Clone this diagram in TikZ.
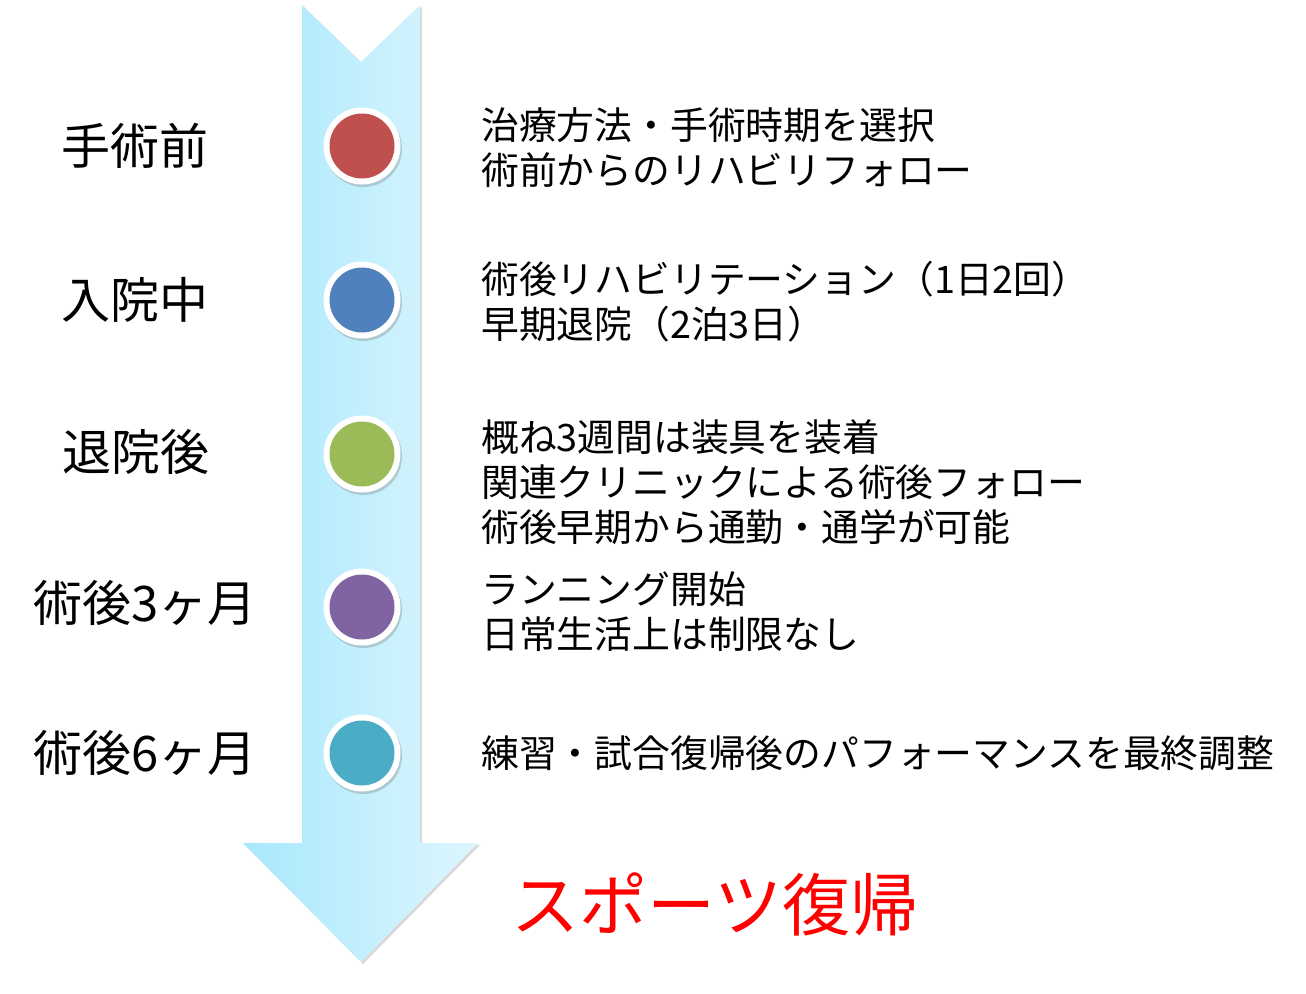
\documentclass[tikz,border=0pt]{standalone}
\usepackage{fontspec}
\setmainfont{Noto Sans CJK JP}
\usetikzlibrary{shadows}
\definecolor{arrowL}{RGB}{168,232,252}
\definecolor{arrowR}{RGB}{222,246,254}
\definecolor{cRed}{RGB}{192,80,77}
\definecolor{cBlue}{RGB}{79,129,189}
\definecolor{cGreen}{RGB}{155,187,89}
\definecolor{cPurple}{RGB}{128,100,162}
\definecolor{cTeal}{RGB}{75,172,198}
\definecolor{titleRed}{RGB}{255,0,0}
\tikzset{
  ring/.style={circle, fill=white, minimum size=77pt, inner sep=0pt,
    drop shadow={opacity=0.35, shadow xshift=1.5pt, shadow yshift=-2.5pt}},
  dot/.style={circle, fill=#1, minimum size=65pt, inner sep=0pt},
  phase/.style={font=\fontsize{49}{56}\selectfont, inner sep=0pt},
  desc/.style={font=\fontsize{37.8}{45}\selectfont, align=left, anchor=west, inner sep=0pt},
  goal/.style={font=\fontsize{68}{74}\selectfont, text=titleRed, inner sep=0pt}
}
\begin{document}
\begin{tikzpicture}[x=1pt,y=-1pt]
\useasboundingbox (0,0) rectangle (1306,993);
% arrow
\path[shading=axis, left color=arrowL, right color=arrowR,
  drop shadow={opacity=0.3, shadow xshift=2pt, shadow yshift=-2pt}]
  (302,5) -- (361,62) -- (420,5) -- (420,843) -- (478,843) -- (361,962)
  -- (243,843) -- (302,843) -- cycle;
% circles
\foreach \n/\y/\c in {1/146/cRed, 2/300/cBlue, 3/454/cGreen, 4/607/cPurple, 5/753/cTeal}{
  \node[ring] (r\n) at (362,\y) {};
  \node[dot=\c] (d\n) at (362,\y) {};
}
% phase labels
\node[phase] (p1) at (135,146) {手術前};
\node[phase] (p2) at (135,300) {入院中};
\node[phase] (p3) at (136,452) {退院後};
\node[phase] (p4) at (145,603) {術後3ヶ月};
\node[phase] (p5) at (145,753) {術後6ヶ月};
% descriptions
\node[desc] (t1) at (481,148) {治療方法・手術時期を選択\\術前からのリハビリフォロー};
\node[desc] (t2) at (481,302) {術後リハビリテーション（1日2回）\\早期退院（2泊3日）};
\node[desc] (t3) at (481,482) {概ね3週間は装具を装着\\関連クリニックによる術後フォロー\\術後早期から通勤・通学が可能};
\node[desc] (t4) at (481,612) {ランニング開始\\日常生活上は制限なし};
\node[desc] (t5) at (481,753) {練習・試合復帰後のパフォーマンスを最終調整};
% goal
\node[goal] (g) at (715,904) {スポーツ復帰};
\end{tikzpicture}
\end{document}
